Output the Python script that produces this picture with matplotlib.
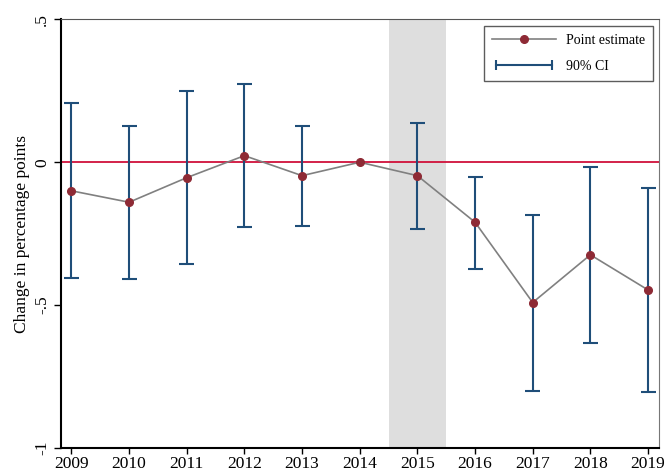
import matplotlib
matplotlib.use("Agg")
import matplotlib.pyplot as plt
from matplotlib.lines import Line2D
from matplotlib.legend_handler import HandlerLine2D

plt.rcParams['font.family'] = ['Liberation Serif', 'DejaVu Serif']

years = [2009, 2010, 2011, 2012, 2013, 2014, 2015, 2016, 2017, 2018, 2019]
estimate = [-0.10, -0.14, -0.054, 0.023, -0.047, 0.0, -0.047, -0.21, -0.491, -0.324, -0.447]
ci_low = [-0.405, -0.407, -0.356, -0.225, -0.222, 0.0, -0.233, -0.373, -0.800, -0.633, -0.803]
ci_high = [0.206, 0.127, 0.250, 0.274, 0.127, 0.0, 0.137, -0.050, -0.185, -0.015, -0.089]
ytick_vals = [-1, -0.5, 0, 0.5]
ytick_labels = ['-1', '-.5', '0', '.5']

ci_color = '#1f4e79'
pt_color = '#8e2a35'
line_color = '#808080'

fig = plt.figure(figsize=(6.67, 4.73), dpi=100)
ax = fig.add_axes([0.0915, 0.053, 0.8965, 0.906])

ax.axvspan(2014.5, 2015.5, color='#dedede', lw=0, zorder=0)
ax.axhline(0, color='#d0103a', lw=1.3, zorder=1)

# CI bars (skip the reference year)
for x, lo, hi in zip(years, ci_low, ci_high):
    if lo == hi:
        continue
    ax.vlines(x, lo, hi, color=ci_color, lw=1.5, zorder=2)
    ax.hlines([lo, hi], x - 0.13, x + 0.13, color=ci_color, lw=1.5, zorder=2)

ax.plot(years, estimate, color=line_color, lw=1.2, zorder=3)
ax.plot(years, estimate, 'o', color=pt_color, ms=5.5, zorder=4)

ax.set_xlim(2008.82, 2019.19)
ax.set_ylim(-1, 0.5)
ax.set_xticks(years)
ax.set_xticklabels([str(y) for y in years], fontsize=12.5)
ax.set_yticks(ytick_vals)
ax.set_yticklabels(ytick_labels, fontsize=12.5, rotation=90, va='center')
ax.set_ylabel('Change in percentage points', fontsize=12.5, labelpad=3)
ax.tick_params(axis='x', length=4, width=1, pad=1.5)
ax.tick_params(axis='y', length=5, width=1, pad=3)

ax.spines['left'].set_linewidth(1.5)
ax.spines['bottom'].set_linewidth(1.5)
ax.spines['top'].set_color('#555555')
ax.spines['right'].set_color('#777777')

h_pt = Line2D([], [], color=line_color, lw=1.2, marker='o', markerfacecolor=pt_color,
              markeredgecolor=pt_color, markersize=5.5)
h_ci = Line2D([], [], color=ci_color, lw=1.5, marker='|', markersize=7, markeredgewidth=1.5)
leg = ax.legend([h_pt, h_ci], ['Point estimate', '90% CI'], loc='upper right',
                fontsize=10, frameon=True, fancybox=False, edgecolor='#333333',
                handlelength=4.6, handletextpad=0.7, borderpad=0.6, labelspacing=0.9,
                borderaxespad=0,
                handler_map={h_pt: HandlerLine2D(numpoints=1), h_ci: HandlerLine2D(numpoints=2)},
                bbox_to_anchor=(0.99, 0.985))
leg.get_frame().set_linewidth(1.0)

fig.savefig('out.png', dpi=100)
